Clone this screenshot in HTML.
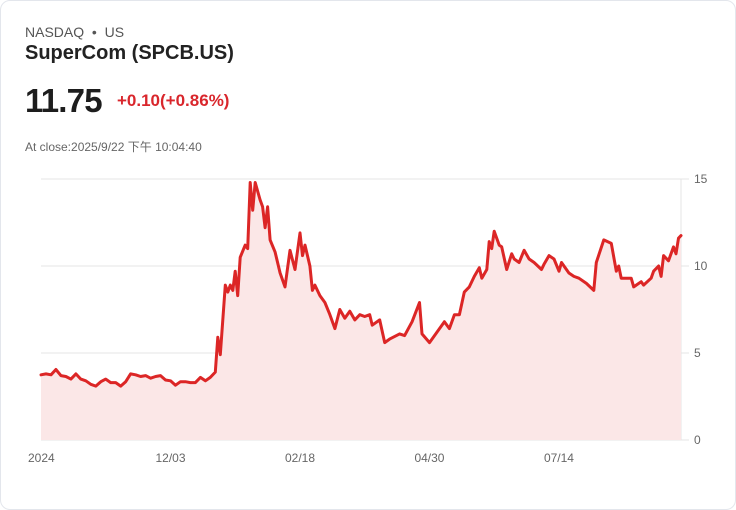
<!DOCTYPE html>
<html><head><meta charset="utf-8"><style>
html,body{margin:0;padding:0;background:#fff;}
body{width:736px;height:510px;position:relative;overflow:hidden;font-family:"Liberation Sans","Noto Sans CJK SC",sans-serif;}
.card{position:absolute;left:0;top:0;width:734px;height:508px;border:1px solid #e3e6ec;border-radius:10px;}
.t{position:absolute;white-space:nowrap;}
</style></head><body>
<div class="card"></div>
<div class="t" style="left:25px;top:24px;font-size:14px;color:#555;">NASDAQ&nbsp; • &nbsp;US</div>
<div class="t" style="left:25px;top:42px;font-size:20px;font-weight:bold;color:#222;">SuperCom (SPCB.US)</div>
<div class="t" style="left:25px;top:82px;font-size:33px;font-weight:bold;color:#1d1d1d;letter-spacing:-0.8px;">11.75</div>
<div class="t" style="left:117px;top:91px;font-size:17px;font-weight:600;color:#d9262c;">+0.10(+0.86%)</div>
<div class="t" style="left:25px;top:138px;font-size:12px;color:#666;">At close:2025/9/22 下午 10:04:40</div>
<svg id="chart" width="736" height="510" style="position:absolute;left:0;top:0"></svg>
<script>
const days=[0,2,4,6,8,10,12,14,16,18,20,22,24,26,28,30,32,34,36,38,40,42,44,46,48,50,52,54,56,58,60,62,64,66,68,70,71,72,74,75,76,77,78,79,80,82,83,84,85,86,88,89,90,91,92,94,96,98,100,102,104,105,106,108,109,110,112,114,116,118,120,122,124,126,128,130,132,133,136,138,140,144,146,149,152,153,156,159,162,164,166,168,170,172,174,176,177,179,180,181,182,184,185,187,189,190,192,194,196,198,201,202,204,206,208,209,212,214,216,219,222,223,226,229,231,232,233,237,238,241,242,245,246,248,249,250,252,254,255,256,257];
const prices=[3.75,3.8,3.75,4.05,3.7,3.65,3.5,3.8,3.5,3.4,3.2,3.1,3.35,3.5,3.3,3.3,3.1,3.35,3.8,3.75,3.65,3.7,3.55,3.65,3.7,3.45,3.4,3.15,3.35,3.35,3.3,3.3,3.6,3.4,3.6,3.9,5.9,4.9,8.9,8.5,8.9,8.6,9.7,8.3,10.5,11.2,11.0,14.8,13.2,14.8,13.8,13.4,12.2,13.4,11.5,10.8,9.6,8.8,10.9,9.8,11.9,10.6,11.2,10,8.6,8.9,8.3,7.9,7.2,6.4,7.5,7,7.4,6.9,7.2,7.1,7.2,6.6,6.9,5.6,5.8,6.1,6.0,6.8,7.9,6.1,5.6,6.2,6.8,6.4,7.2,7.2,8.5,8.8,9.4,9.9,9.3,9.8,11.4,11.0,12.0,11.2,11.1,9.8,10.7,10.4,10.2,10.9,10.4,10.2,9.8,10.1,10.6,10.4,9.7,10.2,9.6,9.4,9.3,9.0,8.6,10.2,11.5,11.3,9.7,10.0,9.3,9.3,8.8,9.1,8.9,9.3,9.7,10.0,9.4,10.6,10.3,11.1,10.7,11.6,11.75];
const yTicks=[0,5,10,15];
const xLabels=["2024","12/03","02/18","04/30","07/14"];
const xLabelDays=[0,52,104,156,208];
const X0=41,X1=681,Y0=440,Y1=179,dMax=257,vMax=15;
const sx=d=>X0+(X1-X0)*d/dMax, sy=v=>Y0-(Y0-Y1)*v/vMax;
const svg=document.getElementById('chart'),NS='http://www.w3.org/2000/svg';
function mk(tag,attrs){const e=document.createElementNS(NS,tag);for(const k in attrs)e.setAttribute(k,attrs[k]);svg.appendChild(e);return e;}
yTicks.forEach(v=>{
  const g=mk('line',{x1:X0,x2:X1+8,y1:sy(v),y2:sy(v),stroke:'#e4e4e4','stroke-width':1});
  
  
  const t=mk('text',{x:694,y:sy(v)+4,'font-size':12,fill:'#666','font-family':'Liberation Sans, sans-serif'});
  t.textContent=v;
  
  
});
const ax=mk('line',{x1:X1,x2:X1,y1:Y1,y2:Y0,stroke:'#e4e4e4','stroke-width':1});


xLabels.forEach((l,i)=>{
  const t=mk('text',{x:sx(xLabelDays[i]),y:462,'font-size':12,fill:'#666','text-anchor':i==0?'start':'middle','font-family':'Liberation Sans, sans-serif'});
  if(i==0)t.setAttribute('x',sx(xLabelDays[i])-13);
  t.textContent=l;
  
  
});
let d='';days.forEach((dd,i)=>{d+=(i?'L':'M')+sx(dd).toFixed(1)+','+sy(prices[i]).toFixed(1);});
const area=mk('path',{d:d+'L'+sx(days[days.length-1])+','+Y0+'L'+sx(days[0])+','+Y0+'Z',fill:'#fbe7e7'});


const line=mk('path',{d:d,fill:'none',stroke:'#dc2626','stroke-width':3,'stroke-linejoin':'round','stroke-linecap':'round'});


</script>
</body></html>
